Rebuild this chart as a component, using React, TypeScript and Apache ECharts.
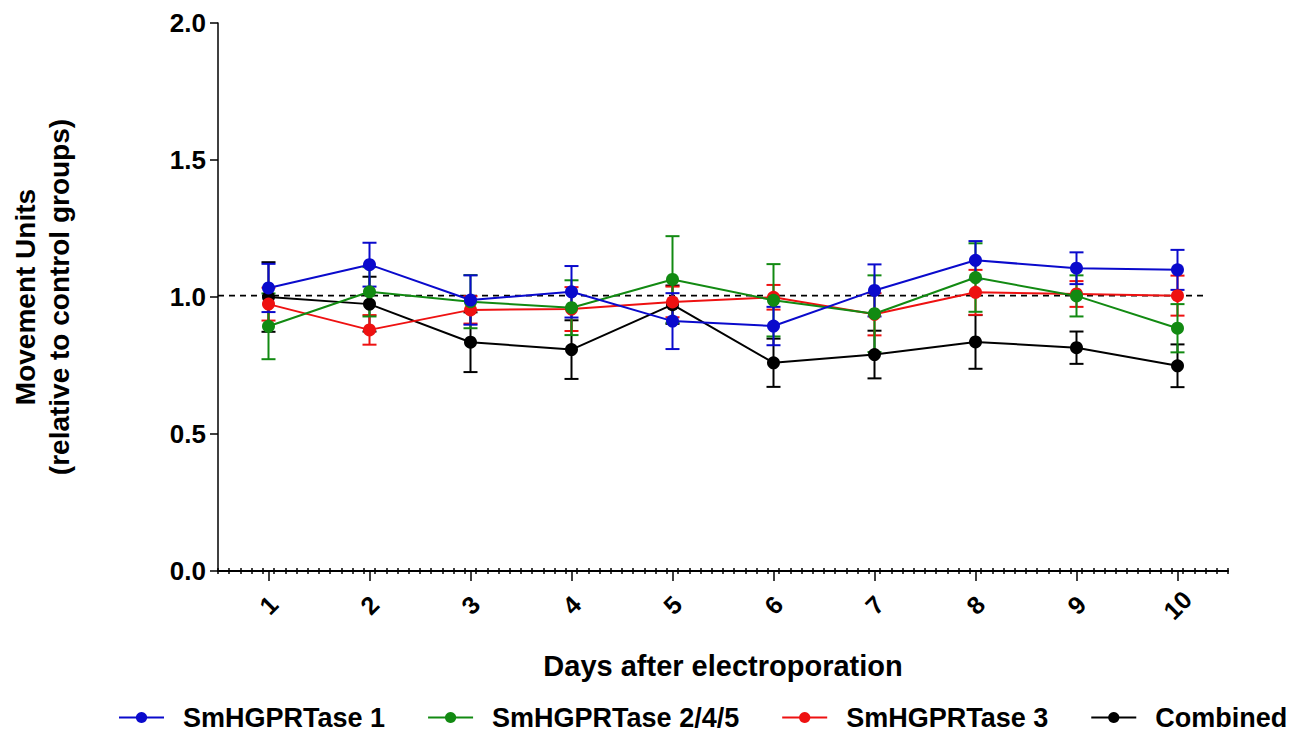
import React, { useEffect, useRef } from "react";
import * as echarts from "echarts";

const days = ["1", "2", "3", "4", "5", "6", "7", "8", "9", "10"];

const smh1Mean = [1.033, 1.118, 0.989, 1.019, 0.912, 0.894, 1.024, 1.134, 1.105, 1.099];
const smh1Sem = [0.088, 0.08, 0.09, 0.094, 0.102, 0.07, 0.095, 0.07, 0.058, 0.073];

const smh245Mean = [0.893, 1.019, 0.983, 0.961, 1.064, 0.988, 0.939, 1.071, 1.004, 0.886];
const smh245Sem = [0.12, 0.09, 0.097, 0.1, 0.158, 0.132, 0.14, 0.125, 0.075, 0.088];

const smh3Mean = [0.974, 0.88, 0.953, 0.956, 0.982, 0.999, 0.937, 1.017, 1.011, 1.005];
const smh3Sem = [0.06, 0.054, 0.05, 0.08, 0.056, 0.045, 0.077, 0.082, 0.047, 0.073];

const combinedMean = [1.0, 0.974, 0.835, 0.808, 0.972, 0.76, 0.79, 0.836, 0.815, 0.749];
const combinedSem = [0.127, 0.1, 0.109, 0.107, 0.07, 0.088, 0.087, 0.098, 0.059, 0.078];

const refLineX = [0.5, 10.3];
const refLineY = 1.005;

const FONT = "'Liberation Sans', Arial, sans-serif";

const groups = [
  { name: "Combined", color: "#000000", mean: combinedMean, sem: combinedSem },
  { name: "SmHGPRTase 3", color: "#ee1111", mean: smh3Mean, sem: smh3Sem },
  { name: "SmHGPRTase 2/4/5", color: "#128a12", mean: smh245Mean, sem: smh245Sem },
  { name: "SmHGPRTase 1", color: "#0a0acc", mean: smh1Mean, sem: smh1Sem },
];

export default function App() {
  const ref = useRef<HTMLDivElement>(null);
  useEffect(() => {
    if (!ref.current) return;
    const chart = echarts.init(ref.current, undefined, { renderer: "svg" });
    const series: any[] = [];
    series.push({
      name: "ref",
      type: "line",
      xAxisIndex: 3,
      yAxisIndex: 0,
      data: refLineX.map((x) => [x, refLineY]),
      symbol: "none",
      lineStyle: { color: "#000", width: 1.8, type: [6, 5] },
      silent: true,
      z: 1,
    });
    groups.forEach((g) => {
      series.push({
        name: "err-" + g.name,
        type: "custom",
        xAxisIndex: 0,
        yAxisIndex: 0,
        clip: false,
        data: g.mean.map((m, i) => [i, m - g.sem[i], m + g.sem[i]]),
        encode: { x: 0, y: [1, 2] },
        renderItem: (params: any, api: any) => {
          const i = api.value(0);
          const lo = api.coord([i, api.value(1)]);
          const hi = api.coord([i, api.value(2)]);
          const w = 7;
          const style = { stroke: g.color, lineWidth: 2 };
          return {
            type: "group",
            children: [
              { type: "line", shape: { x1: lo[0], y1: lo[1], x2: hi[0], y2: hi[1] }, style },
              { type: "line", shape: { x1: lo[0] - w, y1: lo[1], x2: lo[0] + w, y2: lo[1] }, style },
              { type: "line", shape: { x1: hi[0] - w, y1: hi[1], x2: hi[0] + w, y2: hi[1] }, style },
            ],
          };
        },
        z: 2,
      });
      series.push({
        name: g.name,
        type: "line",
        xAxisIndex: 0,
        yAxisIndex: 0,
        data: g.mean,
        symbol: "circle",
        symbolSize: 13,
        lineStyle: { color: g.color, width: 2 },
        itemStyle: { color: g.color },
        z: 3,
      });
    });

    const minorAxis = (inside: boolean) => ({
      type: "value",
      position: "bottom",
      min: 0,
      max: 90,
      interval: 1,
      axisLine: { show: false },
      axisLabel: { show: false },
      splitLine: { show: false },
      axisTick: { show: true, inside, length: 3, lineStyle: { color: "#000", width: 1.5 } },
    });

    chart.setOption({
      animation: false,
      grid: { left: 218, right: 83, top: 23, bottom: 161 },
      legend: {
        data: ["SmHGPRTase 1", "SmHGPRTase 2/4/5", "SmHGPRTase 3", "Combined"],
        left: 113,
        top: 699,
        padding: 5,
        itemWidth: 45,
        itemHeight: 14,
        itemGap: 42,
        textStyle: {
          fontFamily: FONT,
          fontWeight: "bold",
          fontSize: 27,
          lineHeight: 26,
          color: "#000",
          padding: [0, 0, 0, 14],
        },
      },
      xAxis: [
        {
          type: "category",
          data: days,
          boundaryGap: true,
          position: "bottom",
          axisLine: { show: true, lineStyle: { color: "#000", width: 2 } },
          axisTick: { show: true, alignWithLabel: true, length: 10, lineStyle: { color: "#000", width: 1.5 } },
          axisLabel: {
            rotate: 45,
            align: "center",
            verticalAlign: "middle",
            fontFamily: FONT,
            fontWeight: "bold",
            fontSize: 25,
            color: "#000",
            margin: 34,
          },
          splitLine: { show: false },
          name: "Days after electroporation",
          nameLocation: "middle",
          nameGap: 80,
          nameTextStyle: { fontFamily: FONT, fontWeight: "bold", fontSize: 29, color: "#000" },
        },
        minorAxis(true),
        minorAxis(false),
        {
          type: "value",
          position: "bottom",
          min: 0.5,
          max: 10.5,
          show: false,
        },
      ],
      yAxis: {
        type: "value",
        min: 0,
        max: 2,
        interval: 0.5,
        axisLine: { show: true, lineStyle: { color: "#000", width: 1.5 } },
        axisTick: { show: true, length: 8, lineStyle: { color: "#000", width: 1.5 } },
        axisLabel: {
          formatter: (v: number) => v.toFixed(1),
          fontFamily: FONT,
          fontWeight: "bold",
          fontSize: 26,
          color: "#000",
          margin: 12,
        },
        splitLine: { show: false },
        name: "Movement Units\n(relative to control groups)",
        nameLocation: "middle",
        nameGap: 142,
        nameTextStyle: { fontFamily: FONT, fontWeight: "bold", fontSize: 28, color: "#000", lineHeight: 34 },
      },
      series,
    });
    return () => chart.dispose();
  }, []);
  return (
    <div
      ref={ref}
      style={{ position: "fixed", left: 0, top: 0, width: 1311, height: 732, background: "#fff" }}
    />
  );
}
